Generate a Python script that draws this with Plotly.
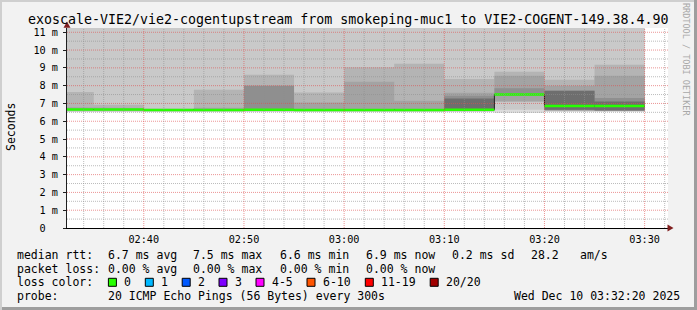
import plotly.graph_objects as go

# ---------------- data ----------------
DAY = "2025-12-10 "
view_start = "02:32:20"
view_end = "03:32:20"
interval_end = ["02:35:00", "02:40:00", "02:45:00", "02:50:00", "02:55:00", "03:00:00",
                "03:05:00", "03:10:00", "03:15:00", "03:20:00", "03:25:00", "03:30:00"]
median_ms = [6.66, 6.66, 6.63, 6.63, 6.65, 6.63, 6.63, 6.63, 6.65, 7.50, 6.85, 6.85]

smoke_max_ms = [11.3, 11.3, 11.3, 11.3, 11.3, 11.3, 11.3, 11.3, 11.3, 11.3, 11.3, 11.3]
smoke_min_ms = [6.53, 6.53, 6.53, 6.53, 6.53, 6.53, 6.53, 6.53, 6.53, 6.46, 6.55, 6.55]
smoke1_lo_ms = [6.53, 6.53, 6.53, 6.53, 6.53, 6.53, 6.53, 6.53, 6.53, 6.65, 6.55, 6.55]
smoke2_hi_ms = [7.65, 6.93, 6.70, 7.77, 8.61, 7.62, 9.04, 9.23, 8.38, 8.78, 8.33, 9.17]
smoke2_lo_ms = [6.60, 6.60, 6.58, 6.58, 6.60, 6.58, 6.58, 6.58, 6.60, 7.11, 6.62, 6.60]
smoke3_hi_ms = [6.78, 6.74, 6.64, 6.76, 8.00, 7.06, 8.22, 7.15, 7.60, 8.56, 8.00, 8.55]
smoke3_lo_ms = [6.62, 6.62, 6.60, 6.60, 6.62, 6.60, 6.60, 6.60, 6.62, 7.11, 6.62, 6.60]
smoke4_hi_ms = [6.62, 6.62, 6.60, 6.60, 8.00, 6.60, 6.60, 6.60, 7.43, 7.86, 7.71, 7.30]
smoke4_lo_ms = [6.62, 6.62, 6.60, 6.60, 6.62, 6.60, 6.60, 6.60, 6.62, 7.45, 6.62, 6.60]
smoke5_hi_ms = [6.62, 6.62, 6.60, 6.60, 6.62, 6.60, 6.60, 6.60, 7.28, 7.45, 7.71, 7.11]
smoke5_lo_ms = [6.62, 6.62, 6.60, 6.60, 6.62, 6.60, 6.60, 6.60, 6.62, 7.45, 6.65, 6.60]

smoke_colors = ["#dddddd", "#c9c9c9", "#b4b4b4", "#a3a3a3", "#8f8f8f", "#6e6e6e"]

y_tick_vals = [0, 1, 2, 3, 4, 5, 6, 7, 8, 9, 10, 11]
y_tick_text = ["0\u00a0\u00a0", "1 m", "2 m", "3 m", "4 m", "5 m", "6 m", "7 m", "8 m",
               "9 m", "10 m", "11 m"]
x_tick_times = ["02:40", "02:50", "03:00", "03:10", "03:20", "03:30"]

title_text = "exoscale-VIE2/vie2-cogentupstream from smokeping-muc1 to VIE2-COGENT-149.38.4.90"
rtt_labels = ["6.7 ms avg", "7.5 ms max", "6.6 ms min", "6.9 ms now", "0.2 ms sd", "28.2", "am/s"]
loss_labels = ["0.00 % avg", "0.00 % max", "0.00 % min", "0.00 % now"]
loss_color_names = ["0", "1", "2", "3", "4-5", "6-10", "11-19", "20/20"]
loss_color_values = ["#26ff00", "#00b8ff", "#0059ff", "#7e00ff", "#ff00ff", "#ff5500",
                     "#ff0000", "#a10000"]
probe_text = "20 ICMP Echo Pings (56 Bytes) every 300s"
stamp_text = "Wed Dec 10 03:32:20 2025"

# ---------------- layout geometry ----------------
W, H = 697, 310
ML, MR, MT, MB = 67, 29, 28, 82
PW, PH = W - ML - MR, H - MT - MB
FONT = "DejaVu Sans Mono"


def fx(px):
    return (px - ML) / PW


def fy(py):
    return (H - MB - py) / PH


starts = [DAY + view_start] + [DAY + t for t in interval_end[:-1]]
ends = [DAY + t for t in interval_end]

fig = go.Figure()


def band(lo, hi, color):
    xs, ys = [], []
    for s, e, h in zip(starts, ends, hi):
        xs += [s, e]
        ys += [h, h]
    for s, e, l in reversed(list(zip(starts, ends, lo))):
        xs += [e, s]
        ys += [l, l]
    fig.add_trace(go.Scatter(x=xs, y=ys, fill="toself", fillcolor=color, mode="lines",
                             line=dict(width=0), hoverinfo="skip", showlegend=False))


band(smoke_min_ms, smoke_max_ms, smoke_colors[0])
band(smoke1_lo_ms, smoke_max_ms, smoke_colors[1])
band(smoke2_lo_ms, smoke2_hi_ms, smoke_colors[2])
band(smoke3_lo_ms, smoke3_hi_ms, smoke_colors[3])
band(smoke4_lo_ms, smoke4_hi_ms, smoke_colors[4])
band(smoke5_lo_ms, smoke5_hi_ms, smoke_colors[5])

# median: dark step line + loss-coloured horizontal segments
mx, my = [], []
for s, e, m in zip(starts, ends, median_ms):
    mx += [s, e]
    my += [m, m]
fig.add_trace(go.Scatter(x=mx, y=my, mode="lines", line=dict(color="#202020", width=1),
                         hoverinfo="skip", showlegend=False))
gx, gy = [], []
for s, e, m in zip(starts, ends, median_ms):
    gx += [s, e, None]
    gy += [m, m, None]
fig.add_trace(go.Scatter(x=gx, y=gy, mode="lines", line=dict(color=loss_color_values[0], width=2.5),
                         hoverinfo="skip", showlegend=False))

shapes = []
MAJ = "rgba(222,79,79,0.6)"
MIN = "rgba(143,143,143,0.6)"
DOT = "1px,1px"
# horizontal grid
for k in range(1, 23):
    v = k * 0.5
    col = MAJ if k % 2 == 0 else MIN
    shapes.append(dict(type="line", xref="paper", yref="y", x0=0, x1=1, y0=v, y1=v,
                       line=dict(color=col, width=1, dash=DOT), layer="above"))
# vertical grid (2-minute minor, 10-minute major)
for hh, mm in [(2, m) for m in range(34, 60, 2)] + [(3, m) for m in range(0, 33, 2)]:
    t = DAY + "%02d:%02d:00" % (hh, mm)
    col = MAJ if mm % 10 == 0 else MIN
    shapes.append(dict(type="line", xref="x", yref="paper", x0=t, x1=t, y0=0, y1=1,
                       line=dict(color=col, width=1, dash=DOT), layer="above"))

# arrows
ARROW = "#801f1f"
shapes.append(dict(type="path", xref="paper", yref="paper", layer="above",
                   path="M %f,%f L %f,%f L %f,%f Z" % (fx(67), fy(21.5), fx(63.5), fy(27.8), fx(70.5), fy(27.8)),
                   fillcolor=ARROW, line=dict(width=0)))
shapes.append(dict(type="path", xref="paper", yref="paper", layer="above",
                   path="M %f,%f L %f,%f L %f,%f Z" % (fx(673.5), fy(228), fx(667.5), fy(224.5), fx(667.5), fy(231.5)),
                   fillcolor=ARROW, line=dict(width=0)))

# outer shade border
shapes.append(dict(type="rect", xref="paper", yref="paper", x0=fx(0), x1=fx(W), y0=fy(0), y1=fy(2),
                   fillcolor="#cfcfcf", line=dict(width=0), layer="above"))
shapes.append(dict(type="rect", xref="paper", yref="paper", x0=fx(0), x1=fx(2), y0=fy(0), y1=fy(H),
                   fillcolor="#cfcfcf", line=dict(width=0), layer="above"))
shapes.append(dict(type="rect", xref="paper", yref="paper", x0=fx(W - 3), x1=fx(W), y0=fy(0), y1=fy(H),
                   fillcolor="#9e9e9e", line=dict(width=0), layer="above"))
shapes.append(dict(type="rect", xref="paper", yref="paper", x0=fx(2), x1=fx(W), y0=fy(H - 3), y1=fy(H),
                   fillcolor="#9e9e9e", line=dict(width=0), layer="above"))

annotations = []


def text(px, py, s, size=11.5, anchor="left", color="#000000", angle=0):
    annotations.append(dict(x=fx(px), y=fy(py), xref="paper", yref="paper", text=s,
                            showarrow=False, xanchor=anchor, yanchor="middle", textangle=angle,
                            font=dict(family=FONT, size=size, color=color), borderpad=0))


text(348, 19, title_text, size=13.3, anchor="center")
text(11, 127, "Seconds", size=11.5, anchor="center", angle=-90)
text(686, 59, "RRDTOOL / TOBI OETIKER", size=8.5, anchor="center", color="#a8a8a8", angle=90)

text(16, 254.7, "median rtt:")
for px, s in zip([106.7, 192.4, 279.1, 365.3, 451.1, 529.8, 578.7], rtt_labels):
    text(px, 254.7, s)
text(16, 268.5, "packet loss:")
for px, s in zip([106.7, 192.4, 279.1, 365.3], loss_labels):
    text(px, 268.5, s)
text(16, 282.3, "loss color:")
box_x = [108.4, 145.3, 182.2, 219.0, 256.0, 307.0, 365.3, 430.2]
lab_x = [123.1, 160.0, 196.9, 233.8, 271.1, 322.2, 380.0, 444.9]
for bx, lx, name, col in zip(box_x, lab_x, loss_color_names, loss_color_values):
    shapes.append(dict(type="rect", xref="paper", yref="paper", x0=fx(bx), x1=fx(bx + 8),
                       y0=fy(278.3), y1=fy(286.3), fillcolor=col,
                       line=dict(color="#000000", width=1), layer="above"))
    text(lx, 282.3, name)
text(16, 296, "probe:")
text(106.7, 296, probe_text)
text(681, 296, stamp_text, anchor="right")

fig.update_layout(
    width=W, height=H,
    margin=dict(l=ML, r=MR, t=MT, b=MB, pad=0),
    paper_bgcolor="#f2f2f2", plot_bgcolor="#ffffff",
    showlegend=False,
    shapes=shapes, annotations=annotations,
    xaxis=dict(type="date", range=[DAY + view_start, DAY + view_end],
               tickvals=[DAY + t + ":00" for t in x_tick_times], ticktext=x_tick_times,
               tickfont=dict(family=FONT, size=10.2, color="#000000"),
               showgrid=False, zeroline=False, showline=True, linecolor="#000000", linewidth=1,
               ticks="", ticklabelstandoff=2, fixedrange=True),
    yaxis=dict(range=[0, 11.24], tickvals=y_tick_vals, ticktext=y_tick_text,
               tickfont=dict(family=FONT, size=10.2, color="#000000"),
               showgrid=False, zeroline=False, showline=True, linecolor="#1f1f1f", linewidth=1,
               ticks="outside", ticklen=3, tickcolor="#1f1f1f", ticklabelstandoff=3,
               fixedrange=True),
)

fig.write_html("out.html", config={"displayModeBar": False})
